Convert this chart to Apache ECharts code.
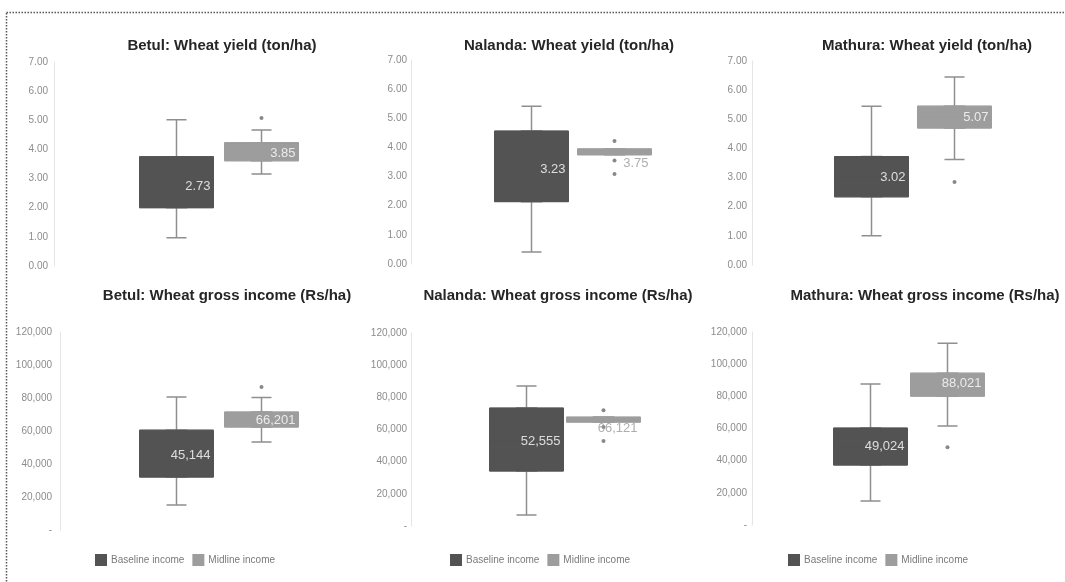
<!DOCTYPE html>
<html>
<head>
<meta charset="utf-8">
<script src="https://cdn.jsdelivr.net/npm/echarts@6/dist/echarts.min.js"></script>
<style>
  html, body { margin: 0; background: #fff; }
  #chart { width: 1065px; height: 582px; }
</style>
</head>
<body>
<div id="chart"></div>
<script>
// categories on every panel's x axis
const categories = ["Baseline", "Midline"];
const legendNames = ["Baseline income", "Midline income"];

// box values: [min, Q1, median, Q3, max]
const betulYieldBase = [0.97, 2.0, 2.73, 3.75, 5.02];
const betulYieldMid = [3.16, 3.61, 3.85, 4.23, 4.67];
const betulYieldMidOut = [5.08];

const nalandaYieldBase = [0.41, 2.14, 3.23, 4.56, 5.41];
const nalandaYieldMid = [3.75, 3.75, 3.75, 3.95, 3.95];
const nalandaYieldMidOut = [4.22, 3.55, 3.09];

const mathuraYieldBase = [1.0, 2.34, 3.02, 3.72, 5.45];
const mathuraYieldMid = [3.62, 4.7, 5.07, 5.45, 6.45];
const mathuraYieldMidOut = [2.85];

const betulIncomeBase = [15200, 32100, 45144, 60500, 80600];
const betulIncomeMid = [53300, 62400, 66201, 71500, 80300];
const betulIncomeMidOut = [86700];

const nalandaIncomeBase = [6800, 34200, 52555, 73300, 87000];
const nalandaIncomeMid = [64600, 64600, 66121, 67700, 67700];
const nalandaIncomeMidOut = [72000, 61500, 52800];

const mathuraIncomeBase = [14900, 37300, 49024, 60250, 87600];
const mathuraIncomeMid = [61500, 80100, 88021, 94400, 113000];
const mathuraIncomeMidOut = [48400];

// y axis ticks
const yieldTicks = [0, 1, 2, 3, 4, 5, 6, 7];
const incomeTicks = [0, 20000, 40000, 60000, 80000, 100000, 120000];

const FONT = "'Liberation Sans', Arial, sans-serif";
const COL = { base: "#535353", mid: "#9d9d9d", whisker: "#8f8f8f", dot: "#6a6a6a", axis: "#8c8c8c" };

const yieldFmt = (v) => v.toFixed(2);
const incomeFmt = (v) => (v === 0 ? "-" : v.toLocaleString("en-US"));

const panels = [
  { title: "Betul: Wheat yield (ton/ha)", base: betulYieldBase, mid: betulYieldMid, out: betulYieldMidOut,
    ticks: yieldTicks, fmt: yieldFmt, names: ["Baseline yield", "Midline yield"], legendLeft: null,
    left: 134, width: 170, top: 62, height: 204, offset: 80, margin: 6, titleX: 217, titleY: 33 },
  { title: "Nalanda: Wheat yield (ton/ha)", base: nalandaYieldBase, mid: nalandaYieldMid, out: nalandaYieldMidOut,
    ticks: yieldTicks, fmt: yieldFmt, names: ["Baseline yield", "Midline yield"], legendLeft: null,
    left: 490, width: 166, top: 60, height: 204, offset: 79, margin: 4, titleX: 564, titleY: 33 },
  { title: "Mathura: Wheat yield (ton/ha)", base: mathuraYieldBase, mid: mathuraYieldMid, out: mathuraYieldMidOut,
    ticks: yieldTicks, fmt: yieldFmt, names: ["Baseline yield", "Midline yield"], legendLeft: null,
    left: 830, width: 166, top: 61, height: 204, offset: 78, margin: 5, titleX: 922, titleY: 33 },
  { title: "Betul: Wheat gross income (Rs/ha)", base: betulIncomeBase, mid: betulIncomeMid, out: betulIncomeMidOut,
    ticks: incomeTicks, fmt: incomeFmt, names: legendNames, legendLeft: 90,
    left: 134, width: 170, top: 332, height: 198, offset: 74, margin: 8, titleX: 222, titleY: 283 },
  { title: "Nalanda: Wheat gross income (Rs/ha)", base: nalandaIncomeBase, mid: nalandaIncomeMid, out: nalandaIncomeMidOut,
    ticks: incomeTicks, fmt: incomeFmt, names: legendNames, legendLeft: 445,
    left: 488, width: 154, top: 333, height: 193, offset: 77, margin: 4, titleX: 553, titleY: 283 },
  { title: "Mathura: Wheat gross income (Rs/ha)", base: mathuraIncomeBase, mid: mathuraIncomeMid, out: mathuraIncomeMidOut,
    ticks: incomeTicks, fmt: incomeFmt, names: legendNames, legendLeft: 783,
    left: 832, width: 154, top: 332, height: 193, offset: 80, margin: 5, titleX: 920, titleY: 283 },
];

const BOX_W = 74;
const blank = ["-", "-", "-", "-", "-"];
const boxOnly = (b) => [b[1], b[1], b[2], b[3], b[3]];

const title = [];
const grid = [];
const xAxis = [];
const yAxis = [];
const series = [];
const legend = [];

panels.forEach((p, i) => {
  const t = p.ticks;
  title.push({
    text: p.title, left: p.titleX, top: p.titleY, textAlign: "center",
    textStyle: { fontFamily: FONT, fontSize: 15, fontWeight: "bold", color: "#262626" },
  });
  grid.push({ left: p.left, top: p.top, width: p.width, height: p.height });
  for (let k = 0; k < 3; k++) {
    xAxis.push({ type: "category", gridIndex: i, data: categories, show: false });
  }
  yAxis.push({
    type: "value", gridIndex: i, min: t[0], max: t[t.length - 1], interval: t[1] - t[0],
    offset: p.offset,
    axisLine: { show: true, lineStyle: { color: "#e4e4e4", width: 1 } },
    axisTick: { show: false },
    splitLine: { show: false },
    axisLabel: { color: COL.axis, fontSize: 10, fontFamily: FONT, margin: p.margin, formatter: p.fmt },
  });
  const ax = i * 3;
  // whiskers (narrow box hidden behind the wide one)
  series.push({
    type: "boxplot", xAxisIndex: ax, yAxisIndex: i, boxWidth: [20, 20], silent: true,
    itemStyle: { color: COL.whisker, borderColor: COL.whisker, borderWidth: 1.5 },
    data: [p.base, p.mid],
  });
  series.push({
    type: "boxplot", name: p.names[0], xAxisIndex: ax + 1, yAxisIndex: i, boxWidth: [BOX_W, BOX_W], silent: true,
    itemStyle: { color: COL.base, borderColor: COL.base, borderWidth: 1 },
    data: [boxOnly(p.base), blank],
  });
  series.push({
    type: "boxplot", name: p.names[1], xAxisIndex: ax + 2, yAxisIndex: i, boxWidth: [BOX_W, BOX_W], silent: true,
    itemStyle: { color: COL.mid, borderColor: COL.mid, borderWidth: 1 },
    data: [blank, boxOnly(p.mid)],
  });
  series.push({
    type: "scatter", xAxisIndex: ax, yAxisIndex: i, symbol: "circle", symbolSize: 4, silent: true,
    itemStyle: { color: COL.dot },
    data: p.out.map((v) => [1, v]),
  });
  const span = t[t.length - 1] - t[0];
  const medians = [p.base, p.mid].map((b, k) => {
    const thin = (b[3] - b[1]) / span < 0.05;
    return {
      value: [k, b[2]],
      label: thin
        ? { color: "#9a9a9a", verticalAlign: "top", position: [BOX_W / 2 - 3, 2] }
        : { color: "#ffffff" },
    };
  });
  series.push({
    type: "scatter", xAxisIndex: ax, yAxisIndex: i, symbolSize: 0, silent: true, z: 5,
    data: medians,
    label: {
      show: true, position: [BOX_W / 2 - 3, 0], align: "right", verticalAlign: "middle",
      fontSize: 13, fontFamily: FONT,
      formatter: (d) => p.fmt(d.value[1]),
    },
  });
  if (p.legendLeft !== null) {
    legend.push({
      left: p.legendLeft, top: 549, icon: "rect", itemWidth: 10, itemHeight: 10, itemGap: 8,
      selectedMode: false,
      textStyle: { fontSize: 10, color: "#7a7a7a", fontFamily: FONT },
      data: legendNames.map((n, k) => ({ name: n, itemStyle: { color: k ? COL.mid : COL.base } })),
    });
  }
});

const chart = echarts.init(document.getElementById("chart"), null, { renderer: "canvas" });
chart.setOption({
  animation: false,
  backgroundColor: "#ffffff",
  title, grid, xAxis, yAxis, series, legend,
  graphic: [{
    type: "rect", silent: true,
    shape: { x: 6.5, y: 12.5, width: 1200, height: 700 },
    style: { fill: "none", stroke: "#555", lineWidth: 1.5, lineDash: [1.5, 1.5] },
  }],
});
</script>
</body>
</html>
